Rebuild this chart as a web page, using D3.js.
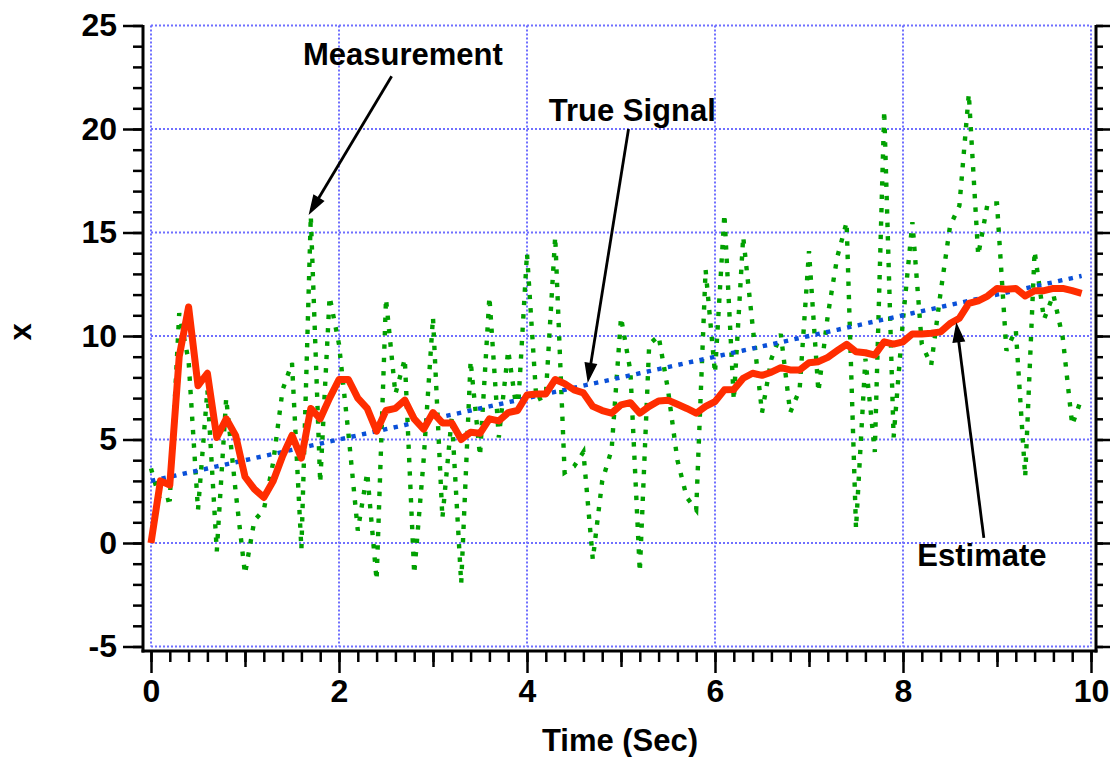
<!DOCTYPE html>
<html>
<head>
<meta charset="utf-8">
<script src="https://cdn.jsdelivr.net/npm/d3@7"></script>
<style>
  html, body { margin: 0; padding: 0; background: #ffffff; }
  svg { display: block; }
  text { font-family: "Liberation Sans", Arial, Helvetica, sans-serif; font-weight: bold; fill: #000; }
</style>
</head>
<body>
<svg id="chart" width="1110" height="757"></svg>
<script>
// Sample times (seconds)
const time = [
  0.0, 0.1, 0.2, 0.3, 0.4, 0.5, 0.6, 0.7, 0.8, 0.9,
  1.0, 1.1, 1.2, 1.3, 1.4, 1.5, 1.6, 1.7, 1.8, 1.9,
  2.0, 2.1, 2.2, 2.3, 2.4, 2.5, 2.6, 2.7, 2.8, 2.9,
  3.0, 3.1, 3.2, 3.3, 3.4, 3.5, 3.6, 3.7, 3.8, 3.9,
  4.0, 4.1, 4.2, 4.3, 4.4, 4.5, 4.6, 4.7, 4.8, 4.9,
  5.0, 5.1, 5.2, 5.3, 5.4, 5.5, 5.6, 5.7, 5.8, 5.9,
  6.0, 6.1, 6.2, 6.3, 6.4, 6.5, 6.6, 6.7, 6.8, 6.9,
  7.0, 7.1, 7.2, 7.3, 7.4, 7.5, 7.6, 7.7, 7.8, 7.9,
  8.0, 8.1, 8.2, 8.3, 8.4, 8.5, 8.6, 8.7, 8.8, 8.9,
  9.0, 9.1, 9.2, 9.3, 9.4, 9.5, 9.6, 9.7, 9.8, 9.9
];

// Noisy measurements
const measurement = [
  3.6, 2.0, 2.1, 11.1, 8.8, 1.6, 7.4, -0.4, 7.0, 2.5,
  -1.5, 1.1, 1.6, 3.9, 7.4, 8.7, -0.3, 15.8, 2.9, 11.9,
  9.6, 5.3, 0.6, 3.4, -1.8, 11.8, 7.2, 8.9, -1.5, 4.0,
  10.9, 1.2, 6.1, -1.95, 8.8, 4.2, 11.9, 5.1, 9.3, 6.1,
  14.0, 6.9, 7.1, 14.8, 3.4, 3.7, 4.4, -0.8, 3.0, 4.5,
  10.9, 8.3, -1.4, 9.6, 10.0, 7.4, 4.0, 2.2, 1.6, 13.2,
  8.2, 15.9, 6.9, 14.8, 10.5, 6.3, 8.9, 10.1, 6.3, 7.4,
  14.1, 7.3, 11.0, 13.8, 15.5, 0.7, 8.9, 4.4, 20.9, 5.1,
  10.8, 15.5, 9.6, 8.6, 12.1, 15.3, 16.3, 21.7, 13.9, 16.4,
  16.4, 9.3, 10.3, 3.2, 14.1, 10.8, 12.0, 9.9, 5.7, 7.0
];

// Underlying true signal
const trueSignal = [
  3.0, 3.1, 3.2, 3.3, 3.4, 3.5, 3.6, 3.7, 3.8, 3.9,
  4.0, 4.1, 4.2, 4.3, 4.4, 4.5, 4.6, 4.7, 4.8, 4.9,
  5.0, 5.1, 5.2, 5.3, 5.4, 5.5, 5.6, 5.7, 5.8, 5.9,
  6.0, 6.1, 6.2, 6.3, 6.4, 6.5, 6.6, 6.7, 6.8, 6.9,
  7.0, 7.1, 7.2, 7.3, 7.4, 7.5, 7.6, 7.7, 7.8, 7.9,
  8.0, 8.1, 8.2, 8.3, 8.4, 8.5, 8.6, 8.7, 8.8, 8.9,
  9.0, 9.1, 9.2, 9.3, 9.4, 9.5, 9.6, 9.7, 9.8, 9.9,
  10.0, 10.1, 10.2, 10.3, 10.4, 10.5, 10.6, 10.7, 10.8, 10.9,
  11.0, 11.1, 11.2, 11.3, 11.4, 11.5, 11.6, 11.7, 11.8, 11.9,
  12.0, 12.1, 12.2, 12.3, 12.4, 12.5, 12.6, 12.7, 12.8, 12.9
];

// Filter estimate
const estimate = [
  0.0, 3.0, 2.8, 9.0, 11.4, 7.6, 8.2, 5.1, 6.0, 5.2,
  3.2, 2.6, 2.2, 3.0, 4.2, 5.2, 4.1, 6.5, 6.0, 7.0,
  7.9, 7.9, 7.0, 6.5, 5.4, 6.4, 6.5, 6.9, 6.0, 5.5,
  6.3, 5.8, 5.8, 5.0, 5.35, 5.3, 6.0, 5.9, 6.3, 6.4,
  7.15, 7.2, 7.2, 7.9, 7.7, 7.4, 7.25, 6.6, 6.4, 6.27,
  6.67, 6.78, 6.27, 6.6, 6.86, 6.9, 6.7, 6.5, 6.27, 6.6,
  6.83, 7.4, 7.42, 7.96, 8.2, 8.1, 8.25, 8.47, 8.36, 8.36,
  8.71, 8.76, 8.97, 9.29, 9.6, 9.24, 9.19, 9.08, 9.72, 9.61,
  9.72, 10.1, 10.1, 10.13, 10.2, 10.6, 10.86, 11.58, 11.7, 11.93,
  12.3, 12.26, 12.3, 11.93, 12.19, 12.19, 12.3, 12.3, 12.19, 12.06
];

const xTickValues = [0, 2, 4, 6, 8, 10];
const yTickValues = [-5, 0, 5, 10, 15, 20, 25];
const xTitle = "Time (Sec)";
const yTitle = "x";

// Callouts: label anchor, leader start, arrow tip (data units)
const callouts = [
  { label: "Measurement", lx: 2.68, ly: 23.1, x0: 2.56, y0: 22.55, x1: 1.69, y1: 15.95 },
  { label: "True Signal", lx: 5.12, ly: 20.4, x0: 5.08, y0: 20.0, x1: 4.65, y1: 7.85 },
  { label: "Estimate",    lx: 8.84, ly: -1.1, x0: 8.86, y0: 0.25, x1: 8.57, y1: 10.55 }
];

const svg = d3.select("#chart");

const x = d3.scaleLinear().domain([0, 10]).range([151, 1091]);
const y = d3.scaleLinear().domain([-5, 25]).range([646.5, 25.5]);

const leftX = 143, rightX = 1096, bottomY = 651, topY = 25;
const fmt = d => String(d); // plain hyphen for negatives

// Grid
const grid = svg.append("g").attr("class", "grid")
  .attr("stroke", "#6f6fff").attr("stroke-width", 2)
  .attr("stroke-dasharray", "2,2").attr("fill", "none");
grid.selectAll("line.v").data(xTickValues).join("line")
  .attr("class", "v")
  .attr("x1", d => x(d)).attr("x2", d => x(d))
  .attr("y1", y(25)).attr("y2", y(-5));
grid.selectAll("line.h").data(yTickValues).join("line")
  .attr("class", "h")
  .attr("x1", x(0)).attr("x2", x(10))
  .attr("y1", d => y(d)).attr("y2", d => y(d));

const pts = arr => arr.map((v, i) => [time[i], v]);
const line = d3.line().x(d => x(d[0])).y(d => y(d[1]));

// Measurement (green dotted)
svg.append("path")
  .attr("d", line(pts(measurement)))
  .attr("fill", "none")
  .attr("stroke", "#00a000")
  .attr("stroke-width", 4.4)
  .attr("stroke-dasharray", "4.4,9")
  .attr("stroke-linejoin", "miter");

// True signal (blue dotted)
svg.append("path")
  .attr("d", line(pts(trueSignal)))
  .attr("fill", "none")
  .attr("stroke", "#0a50d8")
  .attr("stroke-width", 4.4)
  .attr("stroke-dasharray", "4.4,6.4");

// Estimate (red solid)
svg.append("path")
  .attr("d", line(pts(estimate)))
  .attr("fill", "none")
  .attr("stroke", "#ff2d00")
  .attr("stroke-width", 7)
  .attr("stroke-linejoin", "round")
  .attr("stroke-linecap", "butt");

// Axes
const axes = svg.append("g").attr("class", "axes");

function styleAxis(g, width) {
  g.select(".domain").remove();
  g.selectAll(".tick line").attr("stroke", "#000").attr("stroke-width", width);
}
function styleLabels(g) {
  g.selectAll("text").attr("font-size", 32).attr("font-weight", "bold")
    .attr("font-family", '"Liberation Sans", Arial, sans-serif').attr("fill", "#000");
}

// left: minor ticks every unit, major every 5
axes.append("g").attr("transform", `translate(${leftX},0)`)
  .call(d3.axisLeft(y).tickValues(y.ticks(30)).tickSize(10).tickFormat(""))
  .call(g => styleAxis(g, 2.5));
axes.append("g").attr("transform", `translate(${leftX},0)`)
  .call(d3.axisLeft(y).tickValues(yTickValues).tickSize(20).tickPadding(6).tickFormat(fmt))
  .call(g => styleAxis(g, 2.5))
  .call(styleLabels);

// right: outward ticks, no labels
axes.append("g").attr("transform", `translate(${rightX},0)`)
  .call(d3.axisRight(y).tickValues(y.ticks(30)).tickSize(7).tickFormat(""))
  .call(g => styleAxis(g, 2.5));
axes.append("g").attr("transform", `translate(${rightX},0)`)
  .call(d3.axisRight(y).tickValues(yTickValues).tickSize(14).tickFormat(""))
  .call(g => styleAxis(g, 2.5));

// bottom: minor 0.2, mid at odd seconds, major labelled
axes.append("g").attr("transform", `translate(0,${bottomY})`)
  .call(d3.axisBottom(x).tickValues(x.ticks(50)).tickSize(11).tickFormat(""))
  .call(g => styleAxis(g, 2.5));
axes.append("g").attr("transform", `translate(0,${bottomY})`)
  .call(d3.axisBottom(x).tickValues([1, 3, 5, 7, 9]).tickSize(16).tickFormat(""))
  .call(g => styleAxis(g, 2.5));
axes.append("g").attr("transform", `translate(0,${bottomY})`)
  .call(d3.axisBottom(x).tickValues(xTickValues).tickSize(22).tickPadding(6).tickFormat(fmt))
  .call(g => styleAxis(g, 2.5))
  .call(styleLabels);

// spines
axes.append("line").attr("x1", leftX).attr("x2", leftX).attr("y1", topY).attr("y2", bottomY + 1.5)
  .attr("stroke", "#000").attr("stroke-width", 3);
axes.append("line").attr("x1", rightX).attr("x2", rightX).attr("y1", topY).attr("y2", bottomY + 1.5)
  .attr("stroke", "#000").attr("stroke-width", 3);
axes.append("line").attr("x1", leftX - 1.5).attr("x2", rightX + 1.5).attr("y1", bottomY).attr("y2", bottomY)
  .attr("stroke", "#000").attr("stroke-width", 3);

// axis titles
svg.append("text")
  .attr("x", (x(0) + x(10)) / 2 - 1).attr("y", 751)
  .attr("text-anchor", "middle").attr("font-size", 31)
  .text(xTitle);
svg.append("text")
  .attr("transform", `translate(31,${y(10.2)}) rotate(-90)`)
  .attr("text-anchor", "middle").attr("font-size", 31)
  .text(yTitle);

// callouts with arrows
const notes = svg.append("g").attr("class", "callouts");
callouts.forEach(c => {
  const px0 = x(c.x0), py0 = y(c.y0), px1 = x(c.x1), py1 = y(c.y1);
  const dx = px1 - px0, dy = py1 - py0, len = Math.hypot(dx, dy);
  const ux = dx / len, uy = dy / len;
  const headLen = 17, headHalf = 5.5;
  const bx = px1 - ux * headLen, by = py1 - uy * headLen;
  notes.append("line")
    .attr("x1", px0).attr("y1", py0).attr("x2", bx).attr("y2", by)
    .attr("stroke", "#000").attr("stroke-width", 2.8);
  notes.append("polygon")
    .attr("points", [
      [px1, py1],
      [bx - uy * headHalf, by + ux * headHalf],
      [bx + uy * headHalf, by - ux * headHalf]
    ].map(p => p.join(",")).join(" "))
    .attr("fill", "#000").attr("stroke", "#000").attr("stroke-width", 1.5)
    .attr("stroke-linejoin", "miter");
  notes.append("text")
    .attr("x", x(c.lx)).attr("y", y(c.ly))
    .attr("text-anchor", "middle").attr("font-size", 31)
    .text(c.label);
});
</script>
</body>
</html>
